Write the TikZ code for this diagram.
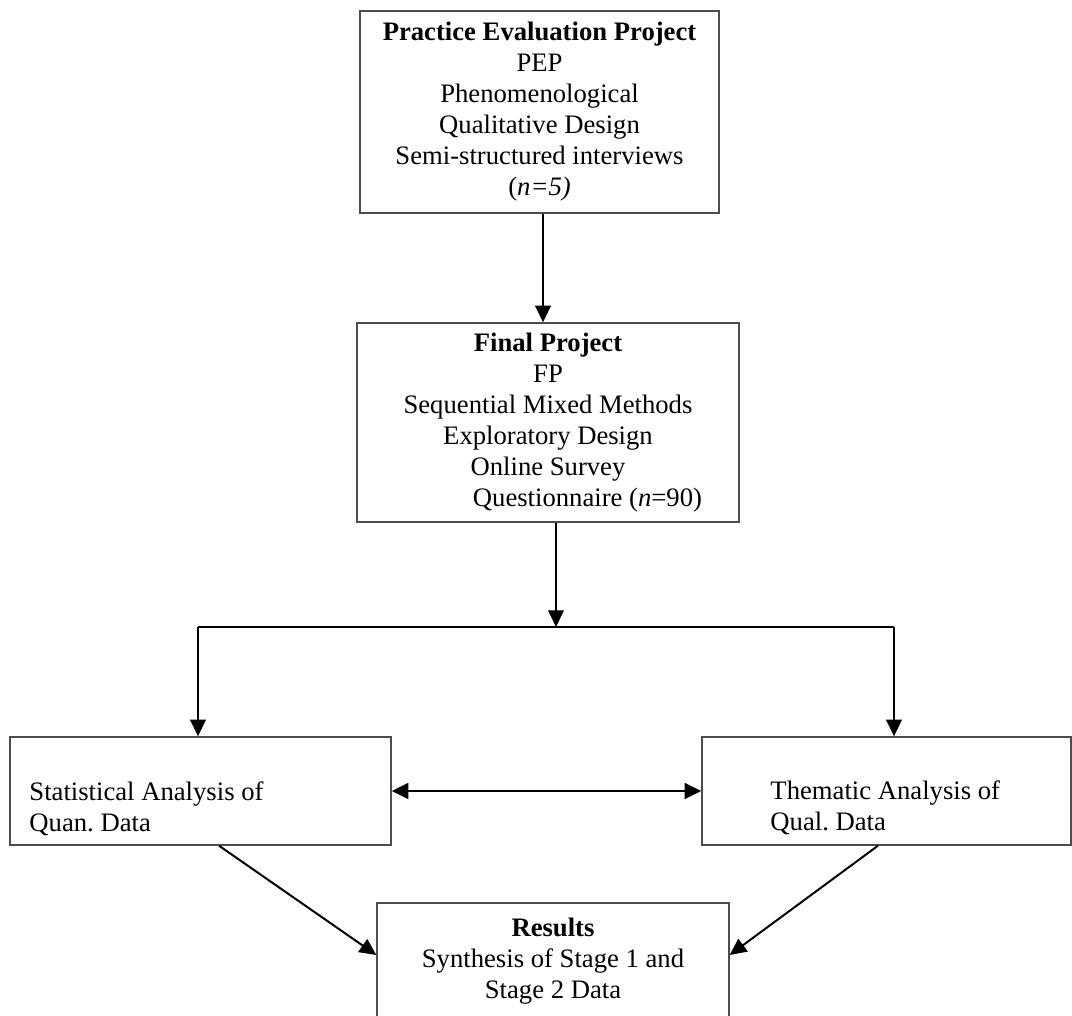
\documentclass[tikz,border=0pt]{standalone}
\usepackage{fontspec}
\setmainfont{Liberation Serif}
\usetikzlibrary{arrows.meta,calc}
\frenchspacing
\begin{document}
\begin{tikzpicture}[x=0.45pt,y=-0.45pt,
  box/.style={draw=black!70,line width=0.6pt,rectangle,inner sep=0pt,font=\fontsize{12pt}{13.95pt}\selectfont},
  txt/.style={inner sep=0pt,font=\fontsize{12pt}{13.95pt}\selectfont},
  conn/.style={draw=black,line width=0.9pt},
  arr/.style={conn,-{Triangle[length=7.5pt,width=7pt]}},
  dbl/.style={draw=black,line width=1.3pt,{Triangle[length=7.5pt,width=7pt]}-{Triangle[length=7.5pt,width=7pt]}}]
\clip (0,0) rectangle (1072,1015);
\fill[white] (0,0) rectangle (1072,1015);
% boxes
\node[box,minimum width=161.55pt,minimum height=90.9pt,align=center] (pep) at (539.5,112)
  {\textbf{Practice Evaluation Project}\\PEP\\Phenomenological\\Qualitative Design\\Semi-structured interviews\\(\textit{n=5)}};
\node[box,minimum width=171.9pt,minimum height=89.55pt,align=center] (fp) at (548,422.5)
  {\textbf{Final Project}\\FP\\Sequential Mixed Methods\\Exploratory Design\\Online Survey\\\hspace*{35.5pt}Questionnaire (\textit{n}=90)};
\node[box,minimum width=171.45pt,minimum height=48.6pt] (quan) at (200.5,791) {};
\node[txt,anchor=west,align=left] (quantxt) at (29,809) {Statistical Analysis of\\Quan. Data};
\node[box,minimum width=166.05pt,minimum height=48.6pt] (them) at (886.5,791) {};
\node[txt,anchor=west,align=left] (themtxt) at (770,808) {Thematic Analysis of\\Qual. Data};
\node[box,minimum width=158.4pt,minimum height=52.65pt] (res) at (553,961.5) {};
\node[txt,align=center] (restxt) at (553,961) {\textbf{Results}\\Synthesis of Stage 1 and\\Stage 2 Data};
% connectors
\coordinate (a1) at ($(pep.south)+(3.5,0)$);
\draw[arr] (a1) -- (a1 |- fp.north);
\coordinate (a2) at ($(fp.south)+(8,0)$);
\coordinate (split) at (556,627);
\draw[arr] (a2) -- (split);
\coordinate (hl) at (198,627);
\coordinate (hr) at (894,627);
\draw[conn] (hl) -- (hr);
\draw[arr] (hl) -- (hl |- quan.north);
\draw[arr] (hr) -- (hr |- them.north);
\draw[dbl] (quan.east) -- (them.west);
\draw[arr] ($(quan.south)+(18.5,0)$) -- ($(res.west)+(0,-6.5)$);
\draw[arr] ($(them.south)+(-8.5,0)$) -- ($(res.east)+(0,-6.5)$);
\end{tikzpicture}
\end{document}
